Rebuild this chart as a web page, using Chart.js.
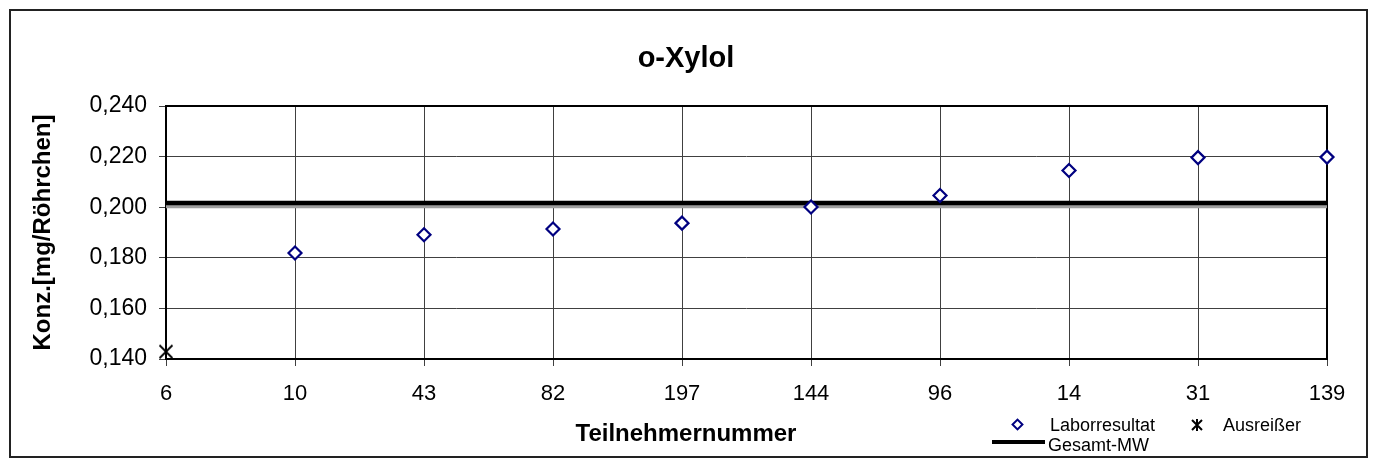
<!DOCTYPE html>
<html lang="de">
<head>
<meta charset="UTF-8">
<meta name="viewport" content="width=device-width, initial-scale=1.0">
<title>o-Xylol</title>
<script src="https://cdn.jsdelivr.net/npm/chart.js"></script>
<style>
    * {
        padding: 0;
        margin: 0;
        font-family: Arial, "Liberation Sans", Helvetica, sans-serif;
    }

    body {
        width: 1375px;
        height: 465px;
        background-color: #fff;
        position: relative;
        overflow: hidden;
    }

    #rahmen {
        position: absolute;
        left: 9px;
        top: 9px;
        width: 1355px;
        height: 445px;
        border: 2px solid #222;
    }

    #chartContainer {
        position: absolute;
        left: 0;
        top: 0;
        width: 1375px;
        height: 465px;
    }

    .titel {
        position: absolute;
        left: 0;
        width: 1372px;
        text-align: center;
        font-weight: bold;
        color: #000;
    }

    .legende {
        position: absolute;
        font-size: 18px;
        line-height: 20px;
        color: #000;
        white-space: nowrap;
    }
</style>
</head>
<body>
    <div id="rahmen"></div>
    <div id="chartContainer">
        <canvas id="xylolChart"></canvas>
    </div>

    <div class="titel" style="top: 40px; font-size: 29px; line-height: 34px;">o-Xylol</div>
    <div class="titel" style="top: 419px; font-size: 24px; line-height: 28px;">Teilnehmernummer</div>

    <!-- Legende -->
    <div style="position: absolute; left: 1013px; top: 420px; width: 5px; height: 5px; border: 2px solid #000080; transform: rotate(45deg);"></div>
    <div class="legende" style="left: 1050px; top: 415px;">Laborresultat</div>
    <svg style="position: absolute; left: 1191px; top: 419px;" width="12" height="12">
        <path d="M1 1 L11 11 M11 1 L1 11 M6 0 L6 12" stroke="#000" stroke-width="2" fill="none"/>
    </svg>
    <div class="legende" style="left: 1223px; top: 415px;">Ausreißer</div>
    <div style="position: absolute; left: 992px; top: 440px; width: 53px; height: 4px; background: #000;"></div>
    <div class="legende" style="left: 1048px; top: 435px;">Gesamt-MW</div>

<script>
    // Daten
    const teilnehmer = ['6', '10', '43', '82', '197', '144', '96', '14', '31', '139'];
    const laborresultat = [null, 0.1819, 0.1891, 0.1914, 0.1937, 0.2001, 0.2046, 0.2145, 0.2196, 0.2198];
    const ausreisser = [0.1429, null, null, null, null, null, null, null, null, null];
    const gesamtMW = 0.2017;

    const yMin = 0.140;
    const yMax = 0.240;
    const yStep = 0.020;

    // Marker fuer Ausreisser (X mit senkrechtem Strich)
    const stern = document.createElement('canvas');
    stern.width = 16;
    stern.height = 16;
    const sc = stern.getContext('2d');
    sc.strokeStyle = '#000';
    sc.lineWidth = 1.8;
    sc.beginPath();
    sc.moveTo(1.5, 1.5); sc.lineTo(14.5, 14.5);
    sc.moveTo(14.5, 1.5); sc.lineTo(1.5, 14.5);
    sc.moveTo(8, 0); sc.lineTo(8, 16);
    sc.stroke();

    const rahmenPlugin = {
        id: 'rahmenPlugin',
        beforeDatasetsDraw(chart) {
            const { ctx, chartArea: a } = chart;
            ctx.save();
            ctx.strokeStyle = '#000';
            ctx.lineWidth = 2;
            ctx.strokeRect(a.left, a.top, a.right - a.left, a.bottom - a.top);
            ctx.restore();
        },
        beforeDatasetDraw(chart, args) {
            if (args.index === 2) {
                const ctx = chart.ctx;
                ctx.save();
                ctx.shadowColor = '#a0a0a0';
                ctx.shadowOffsetY = 3;
                ctx.shadowBlur = 0;
            }
        },
        afterDatasetDraw(chart, args) {
            if (args.index === 2) {
                chart.ctx.restore();
            }
        }
    };

    Chart.defaults.font.family = 'Arial, "Liberation Sans", Helvetica, sans-serif';
    Chart.defaults.color = '#000';

    const gitter = {
        color: '#404040',
        lineWidth: 1,
        tickLength: 7,
        drawOnChartArea: true
    };

    const config = {
        type: 'line',
        data: {
            labels: teilnehmer,
            datasets: [{
                label: 'Laborresultat',
                data: laborresultat,
                showLine: false,
                pointStyle: 'rectRot',
                pointRadius: 6.5,
                pointBorderWidth: 2.2,
                pointBorderColor: '#000080',
                pointBackgroundColor: '#fff',
                clip: false,
                order: 1
            }, {
                label: 'Ausreißer',
                data: ausreisser,
                showLine: false,
                pointStyle: stern,
                clip: false,
                order: 2
            }, {
                label: 'Gesamt-MW',
                data: teilnehmer.map(() => gesamtMW),
                borderColor: '#000',
                borderWidth: 4.5,
                pointRadius: 0,
                fill: false,
                tension: 0,
                clip: false,
                order: 3
            }]
        },
        options: {
            responsive: true,
            maintainAspectRatio: false,
            animation: false,
            layout: {
                padding: { left: 0, right: 48, top: 106, bottom: 0 }
            },
            plugins: {
                legend: { display: false },
                title: { display: false },
                tooltip: { enabled: false }
            },
            scales: {
                x: {
                    type: 'category',
                    offset: false,
                    grid: gitter,
                    border: { display: false },
                    ticks: {
                        font: { size: 22 },
                        padding: 15,
                        maxRotation: 0,
                        autoSkip: false
                    },
                    afterFit: (scale) => { scale.height = 106; }
                },
                y: {
                    min: yMin,
                    max: yMax,
                    grid: gitter,
                    border: { display: false },
                    ticks: {
                        stepSize: yStep,
                        font: { size: 23 },
                        padding: 12,
                        callback: (value) => value.toFixed(3).replace('.', ',')
                    },
                    title: {
                        display: true,
                        text: 'Konz.[mg/Röhrchen]',
                        font: { size: 24, weight: 'bold' },
                        padding: { top: 28.6, bottom: 0 }
                    },
                    afterFit: (scale) => { scale.width = 166; }
                }
            }
        },
        plugins: [rahmenPlugin]
    };

    const ctx = document.getElementById('xylolChart').getContext('2d');
    const xylolChart = new Chart(ctx, config);
</script>
</body>
</html>
